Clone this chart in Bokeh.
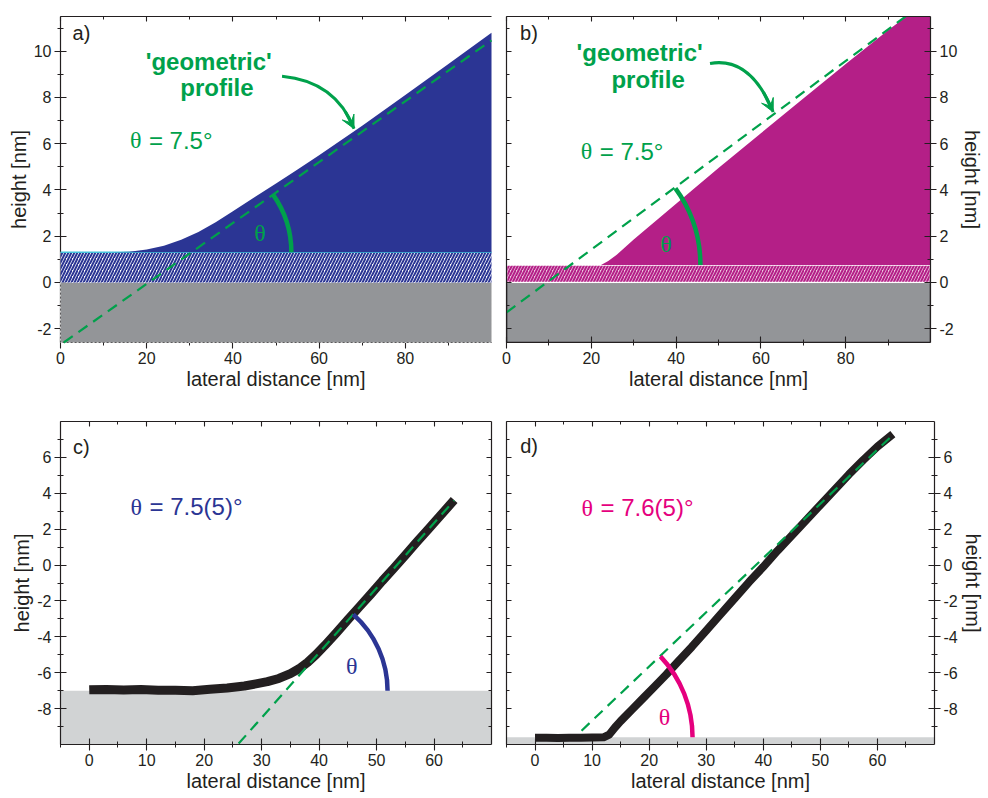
import math
from bokeh.plotting import figure
from bokeh.layouts import column, row
from bokeh.models import (Range1d, LinearAxis, Label, Arrow, VeeHead, FixedTicker,
                          CustomJSTickFormatter)
from bokeh.embed import file_html
from bokeh.resources import INLINE

# ---------------- data ----------------
# panel a: simulated AFM profile (blue)
a_x = [0, 12, 16, 20, 24, 28, 32, 36, 40, 45, 50, 55, 60, 70, 80, 90, 100]
a_y = [1.30, 1.30, 1.33, 1.42, 1.58, 1.84, 2.18, 2.60, 3.08, 3.68, 4.28, 4.88, 5.50, 6.78, 8.10, 9.45, 10.80]
a_layer_top = 1.3
a_fit_x = [0.75, 100]
a_fit_y = [-2.60, 10.47]

# panel b: simulated profile (magenta)
b_x = [0, 22.3, 24, 26, 30, 40, 50, 60, 70, 80, 90, 100]
b_y = [0.75, 0.75, 0.92, 1.20, 1.85, 3.40, 4.95, 6.45, 7.95, 9.45, 10.90, 12.30]
b_layer_top = 0.75
b_fit_x = [0, 100]
b_fit_y = [-1.30, 12.30]

substrate_top = 0.0
ab_x_range = (0, 100)
ab_y_range = (-2.6, 11.5)

# panel c: measured profile
c_x = [0, 3, 6, 9, 12, 15, 18, 21, 24, 27, 29, 31, 33, 35, 36.5, 38, 39.5, 41, 43, 45,
       47, 49, 51, 53, 55, 57, 59, 61, 63.5]
c_y = [-6.95, -6.93, -6.96, -6.94, -6.97, -6.98, -7.00, -6.92, -6.85, -6.74, -6.62, -6.50,
       -6.32, -6.05, -5.78, -5.42, -4.98, -4.48, -3.78, -3.05, -2.33, -1.62, -0.88, -0.18,
       0.55, 1.28, 2.00, 2.72, 3.62]
c_base = -7.0
c_fit_x = [26.0, 63.5]
c_fit_y = [-9.95, 3.60]

# panel d: measured profile
d_x = [0, 2, 4, 6, 8, 10, 12, 13, 14, 15, 17, 19, 21, 23, 25, 27.5, 30, 32.5, 35, 37.5,
       40, 42.5, 45, 47.5, 50, 52.5, 55, 57.5, 60, 62.7]
d_y = [-9.63, -9.62, -9.64, -9.63, -9.62, -9.61, -9.60, -9.45, -9.05, -8.70, -8.05, -7.40,
       -6.75, -6.10, -5.40, -4.55, -3.65, -2.75, -1.85, -0.95, -0.10, 0.80, 1.65, 2.50,
       3.35, 4.20, 5.05, 5.85, 6.60, 7.30]
d_base = -9.6
d_fit_x = [8.15, 62.8]
d_fit_y = [-9.23, 7.28]

cd_x_range = (-5, 70)
cd_y_range = (-10, 8)

ab_x_major = [0, 20, 40, 60, 80]
ab_x_minor = [10, 30, 50, 70, 90]
ab_y_major = [-2, 0, 2, 4, 6, 8, 10]
ab_y_minor = [-1, 1, 3, 5, 7, 9, 11]
cd_x_major = [0, 10, 20, 30, 40, 50, 60]
cd_x_minor = [-5, 5, 15, 25, 35, 45, 55, 65]
cd_y_major = [-8, -6, -4, -2, 0, 2, 4, 6]
cd_y_minor = [-9, -7, -5, -3, -1, 1, 3, 5, 7]

# ---------------- style ----------------
INK = "#231f20"
GREEN = "#00a14b"
BLUE = "#2b3594"
MAGENTA = "#b41f87"
PINK = "#e5007e"
GRAY = "#939598"
LIGHT = "#d1d3d4"
SANS = "Liberation Sans"
SERIF = "Liberation Serif"
TOP = "annotation"   # drawing level for the filled sketch of panel a (covers its axes)

FW, FH_TOP, FH_BOT = 431, 326, 323


def make(width, height, xr, yr, yside, mb):
    p = figure(width=width, height=height, x_range=Range1d(*xr), y_range=Range1d(*yr),
               output_backend="svg", toolbar_location=None, y_axis_location=yside,
               min_border_left=mb[0], min_border_right=mb[1],
               min_border_top=mb[2], min_border_bottom=mb[3])
    p.xgrid.visible = False
    p.ygrid.visible = False
    p.outline_line_color = None
    p.background_fill_color = "white"
    p.border_fill_color = "white"
    return p


def style_axis(ax, major, minor, tin, tout, mtin, mtout, labels=True, title=None):
    ax.ticker = FixedTicker(ticks=major, minor_ticks=minor)
    ax.axis_line_color = INK
    ax.axis_line_width = 1.2
    ax.major_tick_line_color = INK
    ax.minor_tick_line_color = INK
    ax.major_tick_line_width = 1.1
    ax.minor_tick_line_width = 1.0
    ax.major_tick_in = tin
    ax.major_tick_out = tout
    ax.minor_tick_in = mtin
    ax.minor_tick_out = mtout
    ax.major_label_text_font = SANS
    ax.major_label_text_color = INK
    if labels:
        ax.formatter = CustomJSTickFormatter(code="return tick.toString()")
        ax.major_label_text_font_size = "16px"
        ax.major_label_standoff = 3
    else:
        ax.formatter = CustomJSTickFormatter(code="return ''")
        ax.major_label_text_font_size = "1px"
        ax.major_label_standoff = 0
    if title:
        ax.axis_label = title
        ax.axis_label_text_font = SANS
        ax.axis_label_text_font_size = "20px"
        ax.axis_label_text_font_style = "normal"
        ax.axis_label_text_color = INK
        ax.axis_label_standoff = 1


def extra_axis(p, place, major, minor):
    ax = LinearAxis()
    style_axis(ax, major, minor, 5, 0, 3, 0, labels=False)
    p.add_layout(ax, place)


def txt(p, x, y, s, size, color, bold=False, font=SANS, align="left", xoff=0):
    p.add_layout(Label(x=x, y=y, text=s, text_font=font, text_font_size=f"{size}px",
                       text_color=color, text_font_style="bold" if bold else "normal",
                       text_align=align, text_baseline="middle", x_offset=xoff))


def fit_arc(p, fx, fy, base, radius, xr, yr, fw, fh, color, level="glyph"):
    slope = (fy[1] - fy[0]) / (fx[1] - fx[0])
    cx = fx[0] + (base - fy[0]) / slope
    pix_slope = slope * (fh / (yr[1] - yr[0])) / (fw / (xr[1] - xr[0]))
    ang = math.atan(pix_slope)
    p.arc(x=[cx], y=[base], radius=radius, radius_units="screen", start_angle=0,
          end_angle=ang, line_color=color, line_width=4.5, level=level)


def curved_arrow(p, s, c, e, level="glyph"):
    p.quadratic(x0=[s[0]], y0=[s[1]], x1=[e[0]], y1=[e[1]], cx=[c[0]], cy=[c[1]],
                line_color=GREEN, line_width=3, level=level)
    t = 0.8
    bx = (1 - t) ** 2 * s[0] + 2 * (1 - t) * t * c[0] + t * t * e[0]
    by = (1 - t) ** 2 * s[1] + 2 * (1 - t) * t * c[1] + t * t * e[1]
    p.add_layout(Arrow(end=VeeHead(size=13, fill_color=GREEN, line_color=GREEN),
                       x_start=bx, y_start=by, x_end=e[0], y_end=e[1],
                       line_color=GREEN, line_width=3))


# ---------------- panel a ----------------
pa = make(498, 400, ab_x_range, ab_y_range, "left", (60, 7, 16, 58))
pa.quad(left=[ab_x_range[0]], right=[ab_x_range[1]], bottom=[ab_y_range[0]], top=[substrate_top],
        fill_color=GRAY, line_color="#c9c9c9", line_dash="2 2", line_width=1, level=TOP)
pa.quad(left=[ab_x_range[0]], right=[ab_x_range[1]], bottom=[substrate_top], top=[a_layer_top],
        fill_color="white", hatch_pattern="right_diagonal_line", hatch_color=BLUE,
        hatch_scale=6, hatch_weight=2, line_color=None, level=TOP)
pa.line([ab_x_range[0], ab_x_range[1]], [a_layer_top, a_layer_top], line_color="#45c3dc",
        line_width=1.5, level=TOP)
pa.varea(x=a_x, y1=[a_layer_top] * len(a_x), y2=a_y, fill_color=BLUE, level=TOP)
pa.line(a_fit_x, a_fit_y, line_color=GREEN, line_width=2.2, line_dash="11 7", level=TOP)
fit_arc(pa, a_fit_x, a_fit_y, a_layer_top, 100, ab_x_range, ab_y_range, FW, FH_TOP, GREEN, TOP)
curved_arrow(pa, (51.4, 8.92), (63.85, 8.70), (68.1, 6.65), TOP)
style_axis(pa.xaxis[0], ab_x_major, ab_x_minor, 6, 6, 3, 3, True, "lateral distance [nm]")
style_axis(pa.yaxis[0], ab_y_major, ab_y_minor, 6, 6, 3, 3, True, "height [nm]")
extra_axis(pa, "above", ab_x_major, ab_x_minor)
txt(pa, 2.8, 10.8, "a)", 20, INK)
txt(pa, 34.4, 9.57, "'geometric'", 24, GREEN, bold=True, align="center")
txt(pa, 36.3, 8.42, "profile", 24, GREEN, bold=True, align="center")
txt(pa, 16.1, 6.15, "\u03b8", 24, GREEN, font=SERIF)
txt(pa, 16.1, 6.15, "= 7.5\u00b0", 24, GREEN, xoff=19)
txt(pa, 46.3, 2.12, "\u03b8", 24, GREEN, font=SERIF, align="center")

# ---------------- panel b ----------------
pb = make(488, 400, ab_x_range, ab_y_range, "right", (8, 49, 16, 58))
pb.quad(left=[ab_x_range[0]], right=[ab_x_range[1]], bottom=[ab_y_range[0]], top=[substrate_top],
        fill_color=GRAY, line_color=INK, line_width=1.5)
pb.quad(left=[ab_x_range[0]], right=[ab_x_range[1]], bottom=[substrate_top], top=[b_layer_top],
        fill_color="#ecc6e0", hatch_pattern="right_diagonal_line", hatch_color=MAGENTA,
        hatch_scale=6, hatch_weight=2, line_color="white", line_width=1.5)
pb.varea(x=b_x, y1=[b_layer_top] * len(b_x), y2=b_y, fill_color=MAGENTA)
pb.line(b_fit_x, b_fit_y, line_color=GREEN, line_width=2.2, line_dash="11 7")
fit_arc(pb, b_fit_x, b_fit_y, b_layer_top, 130, ab_x_range, ab_y_range, FW, FH_TOP, GREEN)
curved_arrow(pb, (48.0, 9.47), (57.55, 9.78), (62.9, 7.37))
style_axis(pb.xaxis[0], ab_x_major, ab_x_minor, 6, 6, 3, 3, True, "lateral distance [nm]")
style_axis(pb.yaxis[0], ab_y_major, ab_y_minor, 6, 6, 3, 3, True, "height [nm]")
extra_axis(pb, "above", ab_x_major, ab_x_minor)
extra_axis(pb, "left", ab_y_major, ab_y_minor)
txt(pb, 3.2, 10.8, "b)", 20, INK)
txt(pb, 31.4, 9.96, "'geometric'", 24, GREEN, bold=True, align="center")
txt(pb, 33.4, 8.79, "profile", 24, GREEN, bold=True, align="center")
txt(pb, 17.5, 5.67, "\u03b8", 24, GREEN, font=SERIF)
txt(pb, 17.5, 5.67, "= 7.5\u00b0", 24, GREEN, xoff=19)
txt(pb, 37.6, 1.67, "\u03b8", 24, GREEN, font=SERIF, align="center")

# ---------------- panel c ----------------
pc = make(498, 396, cd_x_range, cd_y_range, "left", (60, 7, 21, 52))
pc.quad(left=[cd_x_range[0]], right=[cd_x_range[1]], bottom=[cd_y_range[0]], top=[c_base],
        fill_color=LIGHT, line_color=None)
pc.line(c_x, c_y, line_color=INK, line_width=9, line_join="round")
pc.line(c_fit_x, c_fit_y, line_color=GREEN, line_width=2.2, line_dash="11 7")
fit_arc(pc, c_fit_x, c_fit_y, c_base, 102, cd_x_range, cd_y_range, FW, FH_BOT, BLUE)
style_axis(pc.xaxis[0], cd_x_major, cd_x_minor, 6, 6, 3, 3, True, "lateral distance [nm]")
style_axis(pc.yaxis[0], cd_y_major, cd_y_minor, 6, 6, 3, 3, True, "height [nm]")
extra_axis(pc, "above", cd_x_major, cd_x_minor)
extra_axis(pc, "right", cd_y_major, cd_y_minor)
txt(pc, -2.84, 6.59, "c)", 20, INK)
txt(pc, 7.19, 3.26, "\u03b8", 24, BLUE, font=SERIF)
txt(pc, 7.19, 3.26, "= 7.5(5)\u00b0", 24, BLUE, xoff=19)
txt(pc, 45.7, -5.62, "\u03b8", 24, BLUE, font=SERIF, align="center")

# ---------------- panel d ----------------
pd = make(488, 396, cd_x_range, cd_y_range, "right", (8, 49, 21, 52))
pd.quad(left=[cd_x_range[0]], right=[cd_x_range[1]], bottom=[cd_y_range[0]], top=[d_base],
        fill_color=LIGHT, line_color=None)
pd.line(d_x, d_y, line_color=INK, line_width=8, line_join="round")
pd.line(d_fit_x, d_fit_y, line_color=GREEN, line_width=2.2, line_dash="11 7")
fit_arc(pd, d_fit_x, d_fit_y, d_base, 118, cd_x_range, cd_y_range, FW, FH_BOT, PINK)
style_axis(pd.xaxis[0], cd_x_major, cd_x_minor, 6, 6, 3, 3, True, "lateral distance [nm]")
style_axis(pd.yaxis[0], cd_y_major, cd_y_minor, 6, 6, 3, 3, True, "height [nm]")
extra_axis(pd, "above", cd_x_major, cd_x_minor)
extra_axis(pd, "left", cd_y_major, cd_y_minor)
txt(pd, -2.6, 6.66, "d)", 20, INK)
txt(pd, 8.15, 3.19, "\u03b8", 24, PINK, font=SERIF)
txt(pd, 8.15, 3.19, "= 7.6(5)\u00b0", 24, PINK, xoff=19)
txt(pd, 22.7, -8.49, "\u03b8", 24, PINK, font=SERIF, align="center")

layout = column(row(pa, pb), row(pc, pd))
open("out.html", "w").write(file_html(layout, INLINE))
